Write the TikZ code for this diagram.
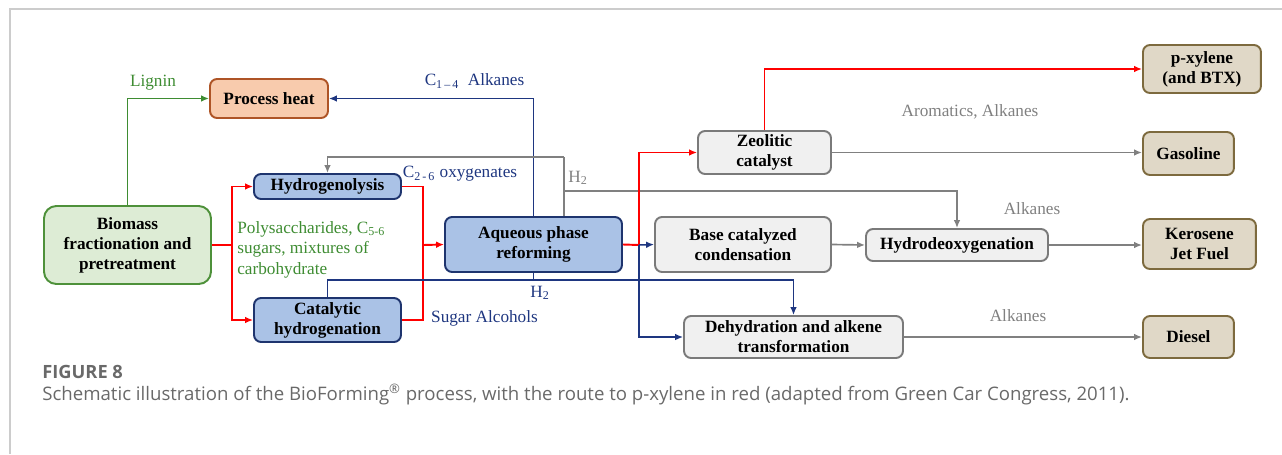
\documentclass[tikz,border=0pt]{standalone}
\usepackage{fontspec}
\setmainfont{Liberation Serif}
\newfontfamily\capfont{Open Sans}
\usepackage{tikz}
\usetikzlibrary{arrows.meta, positioning, calc}
\definecolor{heatfill}{RGB}{248,203,173}
\definecolor{heatdraw}{RGB}{174,84,38}
\definecolor{biofill}{RGB}{221,236,213}
\definecolor{biodraw}{RGB}{78,145,58}
\definecolor{stepfill}{RGB}{170,194,230}
\definecolor{stepdraw}{RGB}{30,52,110}
\definecolor{upgfill}{RGB}{240,240,240}
\definecolor{upgdraw}{RGB}{122,122,122}
\definecolor{fuelfill}{RGB}{224,216,199}
\definecolor{fueldraw}{RGB}{125,106,62}
\definecolor{routered}{RGB}{255,0,0}
\definecolor{routenavy}{RGB}{30,54,128}
\definecolor{routegreen}{RGB}{62,140,50}
\definecolor{routegray}{RGB}{128,128,128}
\definecolor{framegray}{RGB}{204,204,204}
\definecolor{capgray}{RGB}{105,105,105}
\newcommand{\sub}[1]{\textsubscript{#1}}
\tikzset{
    procbox/.style={rounded corners=4pt, line width=1.1pt, align=center, inner sep=0pt,
      font=\bfseries\fontsize{9.8}{11.3}\selectfont},
    heatbox/.style={procbox, fill=heatfill, draw=heatdraw},
    biobox/.style={procbox, fill=biofill, draw=biodraw, rounded corners=7pt},
    stepbox/.style={procbox, fill=stepfill, draw=stepdraw},
    upgbox/.style={procbox, fill=upgfill, draw=upgdraw},
    fuelbox/.style={procbox, fill=fuelfill, draw=fueldraw},
    tip/.style={-{Latex[length=4.5pt,width=3.8pt]}},
    redline/.style={draw=routered, line width=1.1pt},
    navyline/.style={draw=routenavy, line width=0.85pt},
    greenline/.style={draw=routegreen, line width=1.1pt},
    grayline/.style={draw=routegray, line width=0.95pt},
    lbl/.style={inner sep=0pt, font=\fontsize{9.8}{11.6}\selectfont},
}

\begin{document}
\begin{tikzpicture}[x=0.02cm, y=-0.02cm]
    \useasboundingbox (0,0) rectangle (1282,454);
    \draw[framegray, line width=0.7pt] (10,454) -- (10,9) -- (1282,9);

    % feed side
    \node[biobox, minimum width=3.34cm, minimum height=1.56cm] (bio) at (127.5,245)
      {Biomass\\fractionation and\\pretreatment};
    \node[heatbox, minimum width=2.36cm, minimum height=0.78cm] (heat) at (269,98.5) {Process heat};
    \node[stepbox, minimum width=2.94cm, minimum height=0.50cm] (hyd) at (327.5,186.5) {Hydrogenolysis};
    \node[stepbox, minimum width=2.94cm, minimum height=0.88cm] (cat) at (327.5,320)
      {Catalytic\\hydrogenation};
    \node[stepbox, minimum width=3.54cm, minimum height=1.10cm] (apr) at (533.5,244.5)
      {Aqueous phase\\reforming};

    % upgrading
    \node[upgbox, minimum width=2.66cm, minimum height=0.86cm] (zeo) at (764.5,152.5) {Zeolitic\\catalyst};
    \node[upgbox, minimum width=3.52cm, minimum height=1.10cm] (base) at (743,244.5)
      {Base catalyzed\\condensation};
    \node[upgbox, minimum width=4.38cm, minimum height=0.84cm] (dehyd) at (793.5,337)
      {Dehydration and alkene\\transformation};
    \node[upgbox, minimum width=3.64cm, minimum height=0.64cm] (hdo) at (957,245) {Hydrodeoxygenation};

    % products
    \node[fuelbox, minimum width=2.36cm, minimum height=0.96cm, anchor=west] (pxy) at (1142,69)
      {p-xylene\\(and BTX)};
    \node[fuelbox, minimum width=1.82cm, minimum height=0.86cm, anchor=west] (gas) at (1142,153.5) {Gasoline};
    \node[fuelbox, minimum width=2.26cm, minimum height=1.00cm, anchor=west] (kero) at (1142,244)
      {Kerosene\\Jet Fuel};
    \node[fuelbox, minimum width=1.82cm, minimum height=0.84cm, anchor=west] (dies) at (1142,337) {Diesel};

    \coordinate (rj) at (232,245);
    \coordinate (rk) at (423,245);
    \coordinate (aj) at (639,245);
    \coordinate (hg) at (564,157);
    \coordinate (h2) at (564,191);
    \coordinate (hy) at (533.5,280);

    \draw[greenline, tip] (bio.north) |- (heat.west);
    \draw[redline] (bio.east) -- (rj);
    \draw[redline, tip] (rj) |- (hyd.west);
    \draw[redline, tip] (rj) |- (cat.west);
    \draw[redline] (hyd.east) -| (rk) |- (cat.east);
    \draw[redline, tip] (rk) -- (apr.west);
    \draw[navyline, tip] (apr.north) |- (heat.east);
    \draw[grayline] (h2 |- apr.north) -- (hg);
    \draw[grayline, tip] (hg) -| (hyd.north);
    \draw[grayline, tip] (h2) -| (hdo.north);
    \draw[navyline, tip] (cat.north) |- (hy) -| (dehyd.north);
    \draw[navyline] (apr.south) -- (hy);
    \draw[redline] (apr.east) -- (aj);
    \draw[redline, tip] (aj) |- (zeo.west);
    \draw[navyline, tip] (aj) -- (base.west);
    \draw[navyline, tip] (aj) |- (dehyd.west);
    \draw[redline, tip] (zeo.north) |- (pxy.west);
    \draw[grayline, tip] (zeo.east) -- (zeo.east -| gas.west);
    \draw[grayline, tip] (base.east) -- (hdo.west);
    \draw[grayline, tip] (hdo.east) -- (hdo.east -| kero.west);
    \draw[grayline, tip] (dehyd.east) -- (dies.west);

    % labels
    \node[lbl, text=routegreen] (lignin) at (153,83) {Lignin};
    \node[lbl, text=routegreen, align=left, anchor=north west] (sugars) at (237,221)
      {Polysaccharides, C\sub{5-6}\\sugars, mixtures of\\carbohydrate};
    \node[lbl, text=routenavy] (light) at (474.5,81) {C\sub{1\,–\,4}\ \ Alkanes};
    \node[lbl, text=routenavy] (oxy) at (460,174) {C\sub{2\,-\,6} oxygenates};
    \node[lbl, text=routenavy] (alc) at (484.5,318) {Sugar Alcohols};
    \node[lbl, text=routenavy] (hnavy) at (540,293) {H\sub{2}};
    \node[lbl, text=routegray] (hgray) at (578,178) {H\sub{2}};
    \node[lbl, text=routegray] (arom) at (970,112) {Aromatics, Alkanes};
    \node[lbl, text=routegray] (alk1) at (1032,209) {Alkanes};
    \node[lbl, text=routegray] (alk2) at (1018,316) {Alkanes};

    % caption
    \node[inner sep=0pt, anchor=base west, text=capgray, font=\capfont\bfseries\fontsize{10.4}{12}\selectfont]
      (fig) at (42,378) {FIGURE 8};
    \node[inner sep=0pt, anchor=base west, text=capgray, font=\capfont\fontsize{10.6}{12}\selectfont]
      (cap) at (42,400) {Schematic illustration of the BioForming\textsuperscript{®} process, with the route to p-xylene in red (adapted from Green Car Congress, 2011).};
\end{tikzpicture}
\end{document}
